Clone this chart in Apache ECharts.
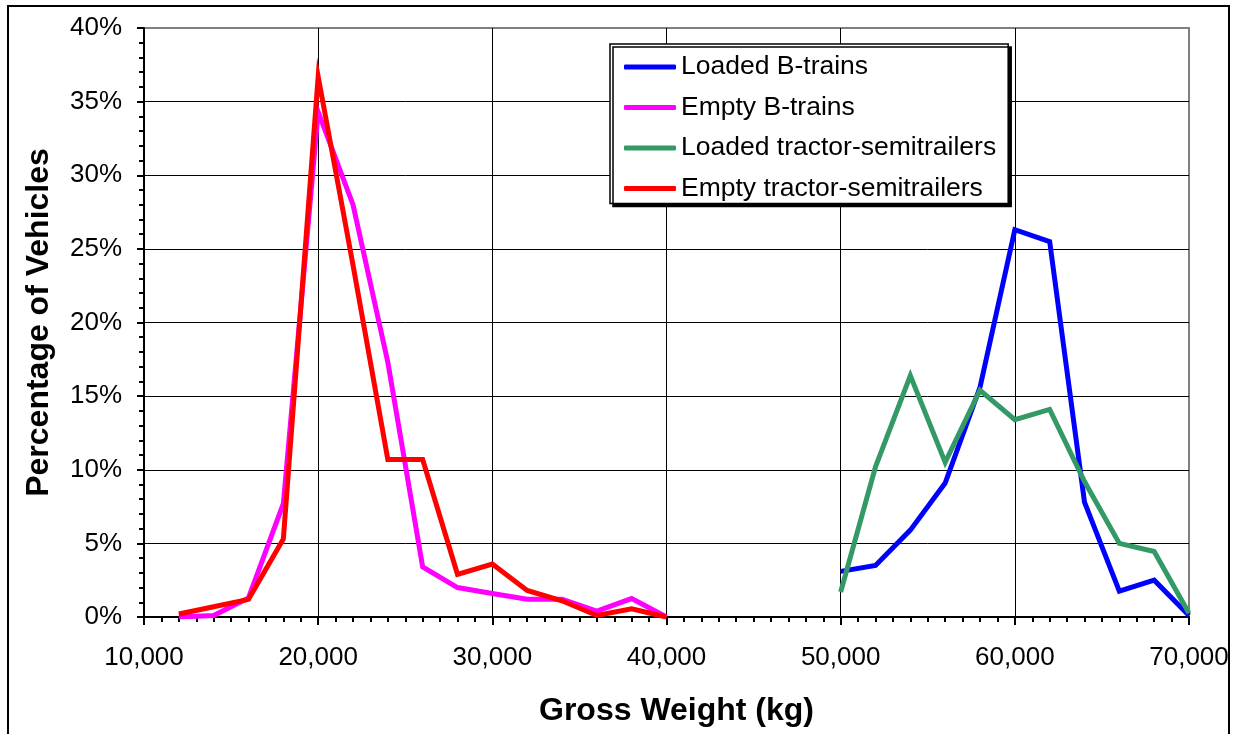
<!DOCTYPE html>
<html>
<head>
<meta charset="utf-8">
<script src="https://cdn.jsdelivr.net/npm/echarts@6/dist/echarts.min.js"></script>
<style>
html,body{margin:0;padding:0;background:#fff;}
#chart{width:1239px;height:734px;}
</style>
</head>
<body>
<div id="chart"></div>
<script>
// Gross weight (kg) categories
const emptyWeights = [12000, 14000, 16000, 18000, 20000, 22000, 24000, 26000, 28000, 30000, 32000, 34000, 36000, 38000, 40000];
const loadedWeights = [50000, 52000, 54000, 56000, 58000, 60000, 62000, 64000, 66000, 68000, 70000];

// Percentage of vehicles (%)
const loadedBtrains = [3.1, 3.5, 5.9, 9.1, 15.6, 26.3, 25.5, 7.8, 1.75, 2.5, 0.1];
const emptyBtrains = [0, 0.1, 1.3, 7.7, 34.3, 28.0, 17.3, 3.4, 2.0, 1.6, 1.2, 1.2, 0.4, 1.25, 0];
const loadedTractor = [1.7, 10.2, 16.4, 10.5, 15.4, 13.4, 14.1, 9.2, 5.0, 4.45, 0.25];
const emptyTractor = [0.2, 0.7, 1.2, 5.3, 36.7, 23.9, 10.7, 10.7, 2.9, 3.6, 1.8, 1.1, 0.1, 0.55, 0];

const seriesNames = ['Loaded B-trains', 'Empty B-trains', 'Loaded tractor-semitrailers', 'Empty tractor-semitrailers'];
const seriesColors = ['#0000FF', '#FF00FF', '#339966', '#FF0000'];

const pair = (xs, ys) => xs.map((x, i) => [x, ys[i]]);

const FONT = '"Liberation Sans", Arial, sans-serif';
const chart = echarts.init(document.getElementById('chart'), null, {renderer: 'canvas'});

const mkSeries = (idx, xs, ys) => ({
  name: seriesNames[idx],
  type: 'line',
  data: pair(xs, ys),
  showSymbol: false,
  symbol: 'none',
  lineStyle: {color: seriesColors[idx], width: 5, join: 'miter'},
  itemStyle: {color: seriesColors[idx]},
  emphasis: {disabled: true},
  animation: false
});

const ySplitColors = ['#000','#000','#000','#000','#000','#000','#000','#000','#808080'];
const xSplitColors = ['#000','#000','#000','#000','#000','#000','#808080'];

chart.setOption({
  backgroundColor: '#fff',
  animation: false,
  textStyle: {fontFamily: FONT},
  grid: {left: 144, top: 28, right: 50, bottom: 117, show: true, borderColor: '#808080', borderWidth: 2, containLabel: false},
  xAxis: {
    type: 'value', min: 10000, max: 70000, interval: 10000,
    name: 'Gross Weight (kg)', nameLocation: 'middle', nameGap: 78,
    nameTextStyle: {fontFamily: FONT, fontSize: 32, fontWeight: 'bold', color: '#000', padding: [0, 0, 0, 20]},
    axisLine: {show: true, onZero: false, lineStyle: {color: '#000', width: 2}},
    axisTick: {show: true, length: 8, lineStyle: {color: '#000', width: 2}},
    minorTick: {show: true, splitNumber: 10, length: 5, lineStyle: {color: '#000', width: 2}},
    axisLabel: {fontFamily: FONT, fontSize: 26, color: '#000', margin: 28,
      formatter: v => v.toLocaleString('en-US')},
    splitLine: {show: true, lineStyle: {color: xSplitColors, width: 1}}
  },
  yAxis: {
    type: 'value', min: 0, max: 40, interval: 5,
    name: 'Percentage of Vehicles', nameLocation: 'middle', nameGap: 89,
    nameTextStyle: {fontFamily: FONT, fontSize: 32, fontWeight: 'bold', color: '#000'},
    axisLine: {show: true, lineStyle: {color: '#000', width: 2}},
    axisTick: {show: true, length: 7, lineStyle: {color: '#000', width: 2}},
    minorTick: {show: true, splitNumber: 5, length: 5, lineStyle: {color: '#000', width: 2}},
    axisLabel: {fontFamily: FONT, fontSize: 26, color: '#000', margin: 22, formatter: '{value}%'},
    splitLine: {show: true, lineStyle: {color: ySplitColors, width: 1}}
  },
  legend: {
    orient: 'vertical', left: 610, top: 44,
    data: seriesNames,
    icon: 'roundRect', itemWidth: 52, itemHeight: 5, itemGap: 10.5,
    padding: [8, 12, 0, 14],
    backgroundColor: '#fff', borderColor: '#000', borderWidth: 1.5,
    shadowColor: '#000', shadowBlur: 0, shadowOffsetX: 3, shadowOffsetY: 3,
    selectedMode: false,
    textStyle: {fontFamily: FONT, fontSize: 26.5, color: '#000', lineHeight: 30, padding: [0, 0, 0, 0]}
  },
  graphic: [{
    type: 'rect', silent: true, z: -10,
    shape: {x: 8, y: 6, width: 1221, height: 740},
    style: {fill: 'none', stroke: '#000', lineWidth: 2}
  }],
  series: [
    mkSeries(0, loadedWeights, loadedBtrains),
    mkSeries(1, emptyWeights, emptyBtrains),
    mkSeries(2, loadedWeights, loadedTractor),
    mkSeries(3, emptyWeights, emptyTractor)
  ]
});
</script>
</body>
</html>
